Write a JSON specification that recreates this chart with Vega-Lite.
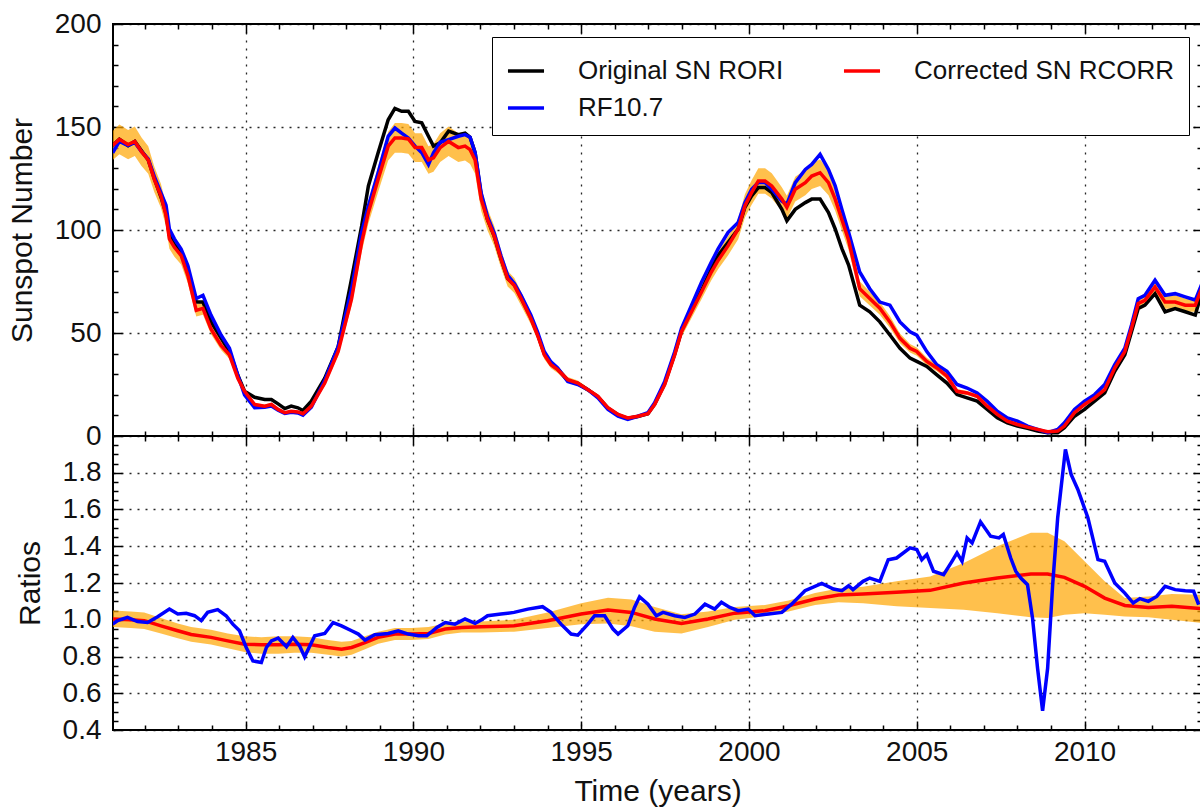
{
  "$schema": "https://vega.github.io/schema/vega-lite/v6.json",
  "padding": {"left": 6, "top": 9, "right": 0, "bottom": 0},
  "spacing": 0,
  "bounds": "flush",
  "resolve": {"legend": {"color": "independent"}},
  "config": {
    "font": "Liberation Sans",
    "view": {"stroke": "black", "strokeWidth": 2},
    "axis": {
      "labelFont": "Liberation Sans", "labelFontSize": 28, "labelColor": "#111",
      "titleFont": "Liberation Sans", "titleFontSize": 30, "titleFontWeight": "normal", "titleColor": "#111",
      "domain": false, "tickColor": "black", "tickWidth": 1.5, "minExtent": 0,
      "gridColor": "black", "gridDash": [2, 6], "gridOpacity": 0.85, "gridWidth": 1.3
    },
    "legend": {
      "labelFont": "Liberation Sans", "labelFontSize": 26, "labelColor": "#111",
      "symbolType": "stroke", "symbolSize": 1300, "symbolStrokeWidth": 3.5,
      "strokeColor": "black", "fillColor": "white", "padding": 14, "rowPadding": 4,
      "columnPadding": 52, "labelOffset": 32, "labelLimit": 500
    }
  },
  "datasets": {
    "top": [
      {"t":1981.04,"o":141,"f":137.5,"c":141,"lo":134,"hi":148},
      {"t":1981.24,"o":144,"f":143,"c":144,"lo":136.8,"hi":151.2},
      {"t":1981.5,"o":141,"f":141,"c":141.5,"lo":134.4,"hi":148.6},
      {"t":1981.7,"o":143,"f":142.5,"c":143,"lo":135.9,"hi":150.2},
      {"t":1981.9,"o":138.5,"f":138,"c":138,"lo":131.1,"hi":144.9},
      {"t":1982.1,"o":134,"f":134.5,"c":134,"lo":127.3,"hi":140.7},
      {"t":1982.28,"o":125,"f":126,"c":124.6,"lo":118.4,"hi":130.8},
      {"t":1982.48,"o":116,"f":118,"c":116.5,"lo":110.7,"hi":122.3},
      {"t":1982.63,"o":108,"f":112,"c":107,"lo":101.7,"hi":112.4},
      {"t":1982.73,"o":97.5,"f":100.5,"c":95.7,"lo":90.9,"hi":100.5},
      {"t":1982.88,"o":93,"f":95.7,"c":91.6,"lo":87,"hi":96.2},
      {"t":1983.08,"o":89.5,"f":90.8,"c":87.6,"lo":83.2,"hi":92},
      {"t":1983.28,"o":79.5,"f":82.8,"c":78,"lo":74.1,"hi":81.9},
      {"t":1983.53,"o":65,"f":66.7,"c":61,"lo":58,"hi":64},
      {"t":1983.73,"o":65,"f":68.3,"c":62,"lo":58.9,"hi":65.1},
      {"t":1983.97,"o":55.5,"f":58.7,"c":52,"lo":49.4,"hi":54.6},
      {"t":1984.27,"o":47.5,"f":49,"c":44,"lo":41.8,"hi":46.2},
      {"t":1984.52,"o":41,"f":42.6,"c":39.4,"lo":37.4,"hi":41.4},
      {"t":1984.77,"o":29.5,"f":29.5,"c":28,"lo":26.6,"hi":29.4},
      {"t":1984.97,"o":21.7,"f":20,"c":21.7,"lo":20.6,"hi":22.8},
      {"t":1985.27,"o":18.8,"f":13.7,"c":15.3,"lo":14.5,"hi":16.1},
      {"t":1985.57,"o":17.7,"f":14,"c":14.5,"lo":13.8,"hi":15.2},
      {"t":1985.77,"o":17.7,"f":14.5,"c":15.3,"lo":14.5,"hi":16.1},
      {"t":1985.97,"o":15.6,"f":12.5,"c":12.9,"lo":12.3,"hi":13.5},
      {"t":1986.17,"o":13.3,"f":11,"c":11.3,"lo":10.7,"hi":11.9},
      {"t":1986.36,"o":14.5,"f":11.5,"c":12,"lo":11.4,"hi":12.6},
      {"t":1986.56,"o":13.7,"f":11.2,"c":11.7,"lo":11.1,"hi":12.3},
      {"t":1986.71,"o":12.4,"f":10.1,"c":10.8,"lo":10.3,"hi":11.3},
      {"t":1986.96,"o":16.9,"f":14,"c":14.5,"lo":13.8,"hi":15.2},
      {"t":1987.36,"o":28.1,"f":27,"c":25.7,"lo":24.4,"hi":27},
      {"t":1987.76,"o":43.4,"f":43.4,"c":41,"lo":39,"hi":43},
      {"t":1988.16,"o":76.4,"f":71.5,"c":66.7,"lo":63.4,"hi":70},
      {"t":1988.46,"o":102,"f":99,"c":94,"lo":89.3,"hi":98.7},
      {"t":1988.66,"o":121.4,"f":111.7,"c":108.5,"lo":103.1,"hi":113.9},
      {"t":1988.95,"o":137.5,"f":127.8,"c":124.6,"lo":118.4,"hi":130.8},
      {"t":1989.25,"o":153.5,"f":145.5,"c":140.7,"lo":133.7,"hi":147.7},
      {"t":1989.45,"o":159,"f":149.5,"c":144.7,"lo":137.5,"hi":151.9},
      {"t":1989.65,"o":157.6,"f":147,"c":144.7,"lo":137.5,"hi":151.9},
      {"t":1989.85,"o":157.6,"f":144.7,"c":144.2,"lo":137,"hi":151.4},
      {"t":1990.05,"o":152.7,"f":140.7,"c":140,"lo":133,"hi":147},
      {"t":1990.25,"o":152,"f":137.5,"c":140,"lo":133,"hi":147},
      {"t":1990.45,"o":145.5,"f":131.8,"c":134,"lo":127.3,"hi":140.7},
      {"t":1990.6,"o":140.7,"f":137.5,"c":135,"lo":128.3,"hi":141.8},
      {"t":1990.8,"o":142.3,"f":142.6,"c":140,"lo":133,"hi":147},
      {"t":1991.05,"o":148,"f":143.9,"c":143,"lo":135.9,"hi":150.2},
      {"t":1991.34,"o":146.3,"f":145.5,"c":140,"lo":133,"hi":147},
      {"t":1991.54,"o":147,"f":146.3,"c":140.7,"lo":133.7,"hi":147.7},
      {"t":1991.69,"o":145,"f":145,"c":139,"lo":132,"hi":146},
      {"t":1991.84,"o":137.5,"f":137.5,"c":134,"lo":127.3,"hi":140.7},
      {"t":1992.02,"o":117,"f":118,"c":115,"lo":109.3,"hi":120.8},
      {"t":1992.21,"o":105,"f":106.5,"c":105,"lo":99.8,"hi":110.3},
      {"t":1992.41,"o":97,"f":98.5,"c":97,"lo":92.2,"hi":101.9},
      {"t":1992.61,"o":86,"f":87.5,"c":86,"lo":81.7,"hi":90.3},
      {"t":1992.81,"o":76.4,"f":78,"c":76.4,"lo":72.6,"hi":80.2},
      {"t":1993.01,"o":73.5,"f":74,"c":73,"lo":69.4,"hi":76.7},
      {"t":1993.21,"o":67,"f":68.3,"c":66.7,"lo":63.4,"hi":70},
      {"t":1993.5,"o":57.5,"f":58.7,"c":57,"lo":54.2,"hi":59.9},
      {"t":1993.7,"o":49.5,"f":50.6,"c":49,"lo":46.6,"hi":51.5},
      {"t":1993.9,"o":40,"f":41,"c":39.4,"lo":37.4,"hi":41.4},
      {"t":1994.1,"o":35,"f":36,"c":34.6,"lo":32.9,"hi":36.3},
      {"t":1994.3,"o":32.5,"f":33,"c":32.2,"lo":30.6,"hi":33.8},
      {"t":1994.6,"o":27,"f":26.5,"c":27.3,"lo":25.9,"hi":28.7},
      {"t":1994.9,"o":25.5,"f":25,"c":25.7,"lo":24.4,"hi":27},
      {"t":1995.2,"o":22.5,"f":22.5,"c":22.5,"lo":21.4,"hi":23.6},
      {"t":1995.5,"o":19,"f":18.5,"c":19.3,"lo":18.3,"hi":20.3},
      {"t":1995.8,"o":13.5,"f":12.9,"c":13.7,"lo":13,"hi":14.4},
      {"t":1996.1,"o":10.3,"f":9.6,"c":10.5,"lo":10,"hi":11},
      {"t":1996.39,"o":8.6,"f":8,"c":8.8,"lo":8.4,"hi":9.2},
      {"t":1996.69,"o":9.5,"f":9.6,"c":9.6,"lo":9.1,"hi":10.1},
      {"t":1996.99,"o":10.8,"f":11.3,"c":10.8,"lo":10.3,"hi":11.3},
      {"t":1997.19,"o":15.5,"f":16.1,"c":15.3,"lo":14.5,"hi":16.1},
      {"t":1997.49,"o":25.5,"f":26.5,"c":25,"lo":23.8,"hi":26.3},
      {"t":1997.79,"o":40,"f":41,"c":39.4,"lo":37.4,"hi":41.4},
      {"t":1997.99,"o":51,"f":52.3,"c":50.6,"lo":48.1,"hi":53.1},
      {"t":1998.29,"o":61,"f":63.5,"c":60.3,"lo":57.3,"hi":63.3},
      {"t":1998.59,"o":70.8,"f":74.8,"c":70,"lo":66.5,"hi":73.5},
      {"t":1998.88,"o":81.2,"f":84.4,"c":79.6,"lo":75.6,"hi":83.6},
      {"t":1999.08,"o":87.6,"f":90.8,"c":85.2,"lo":80.9,"hi":89.5},
      {"t":1999.38,"o":94,"f":98.9,"c":92.4,"lo":87.8,"hi":97},
      {"t":1999.68,"o":100.5,"f":103.7,"c":100.5,"lo":95.5,"hi":105.5},
      {"t":1999.88,"o":111,"f":113.3,"c":111.7,"lo":106.1,"hi":117.3},
      {"t":2000.08,"o":116.6,"f":119.8,"c":118.2,"lo":112.3,"hi":124.1},
      {"t":2000.28,"o":120.6,"f":123,"c":123.8,"lo":117.6,"hi":130},
      {"t":2000.48,"o":120.6,"f":123,"c":123.8,"lo":117.6,"hi":130},
      {"t":2000.68,"o":118.2,"f":119.8,"c":121.4,"lo":115.3,"hi":127.5},
      {"t":2000.98,"o":110,"f":114,"c":115,"lo":109.3,"hi":120.8},
      {"t":2001.13,"o":104.5,"f":112.5,"c":111,"lo":105.5,"hi":116.6},
      {"t":2001.38,"o":110,"f":123,"c":119.8,"lo":113.8,"hi":125.8},
      {"t":2001.68,"o":113.3,"f":129.4,"c":123,"lo":116.9,"hi":129.2},
      {"t":2001.87,"o":115,"f":131.8,"c":126.2,"lo":119.9,"hi":132.5},
      {"t":2002.12,"o":115,"f":136.7,"c":127.8,"lo":121.4,"hi":134.2},
      {"t":2002.37,"o":108.5,"f":129.4,"c":123,"lo":116.9,"hi":129.2},
      {"t":2002.57,"o":100.5,"f":121.4,"c":115,"lo":109.3,"hi":120.8},
      {"t":2002.77,"o":91,"f":110,"c":105,"lo":99.8,"hi":110.3},
      {"t":2002.97,"o":83,"f":98.9,"c":95,"lo":90.3,"hi":99.8},
      {"t":2003.3,"o":63.5,"f":79.6,"c":71.5,"lo":67.9,"hi":75.1},
      {"t":2003.6,"o":60.3,"f":71.5,"c":66.7,"lo":63.4,"hi":70},
      {"t":2003.9,"o":55.4,"f":65,"c":62,"lo":58.9,"hi":65.1},
      {"t":2004.2,"o":49,"f":63.5,"c":55.4,"lo":52.6,"hi":58.2},
      {"t":2004.5,"o":42.6,"f":55.4,"c":47.4,"lo":45,"hi":49.8},
      {"t":2004.8,"o":37.8,"f":50.6,"c":42.6,"lo":40.5,"hi":44.7},
      {"t":2005.0,"o":36.2,"f":49,"c":41,"lo":39,"hi":43},
      {"t":2005.3,"o":33.8,"f":41,"c":36.2,"lo":34.4,"hi":38},
      {"t":2005.6,"o":29.7,"f":34.6,"c":33,"lo":31.4,"hi":34.7},
      {"t":2005.9,"o":25.7,"f":31.4,"c":29,"lo":27.6,"hi":30.5},
      {"t":2006.2,"o":20.1,"f":25,"c":21.7,"lo":20.6,"hi":22.8},
      {"t":2006.5,"o":18.5,"f":23.3,"c":20.9,"lo":19.9,"hi":21.9},
      {"t":2006.8,"o":16.9,"f":20.9,"c":19.3,"lo":18.3,"hi":20.3},
      {"t":2007.1,"o":12.9,"f":16.9,"c":14.5,"lo":13.8,"hi":15.2},
      {"t":2007.4,"o":8.8,"f":12,"c":10.5,"lo":10,"hi":11},
      {"t":2007.7,"o":6.4,"f":8.8,"c":7.2,"lo":6.8,"hi":7.6},
      {"t":2008.0,"o":4.8,"f":7.2,"c":5.6,"lo":5.3,"hi":5.9},
      {"t":2008.3,"o":3.7,"f":4.8,"c":4.3,"lo":4.1,"hi":4.5},
      {"t":2008.6,"o":2.4,"f":3.2,"c":3.2,"lo":3,"hi":3.4},
      {"t":2008.9,"o":1.6,"f":1.6,"c":2.1,"lo":2,"hi":2.2},
      {"t":2009.2,"o":1.6,"f":3.2,"c":2.4,"lo":2.3,"hi":2.5},
      {"t":2009.4,"o":4,"f":6.4,"c":4.8,"lo":4.6,"hi":5},
      {"t":2009.7,"o":9.6,"f":12.9,"c":11.3,"lo":10.7,"hi":11.9},
      {"t":2010.0,"o":12.9,"f":16.9,"c":15.3,"lo":14.5,"hi":16.1},
      {"t":2010.3,"o":16.9,"f":20.1,"c":18.5,"lo":17.6,"hi":19.4},
      {"t":2010.6,"o":20.9,"f":25,"c":22.5,"lo":21.4,"hi":23.6},
      {"t":2010.9,"o":31.4,"f":34.6,"c":33,"lo":31.4,"hi":34.7},
      {"t":2011.2,"o":39.4,"f":42.6,"c":41,"lo":39,"hi":43},
      {"t":2011.4,"o":50.6,"f":53.9,"c":52.3,"lo":49.7,"hi":54.9},
      {"t":2011.6,"o":61.9,"f":66.7,"c":64.3,"lo":61.1,"hi":67.5},
      {"t":2011.8,"o":63.5,"f":68.3,"c":65.9,"lo":62.6,"hi":69.2},
      {"t":2012.1,"o":69.1,"f":75.6,"c":72.3,"lo":68.7,"hi":75.9},
      {"t":2012.4,"o":60.3,"f":68.3,"c":65,"lo":61.8,"hi":68.3},
      {"t":2012.7,"o":61.9,"f":69.1,"c":65,"lo":61.8,"hi":68.3},
      {"t":2013.0,"o":60.3,"f":67.5,"c":63.5,"lo":60.3,"hi":66.7},
      {"t":2013.3,"o":58.7,"f":66,"c":63.5,"lo":60.3,"hi":66.7},
      {"t":2013.5,"o":70,"f":74,"c":72,"lo":68.4,"hi":75.6}
    ],
    "ratio": [
      {"t":1981.04,"c":1.004,"lo":0.96,"hi":1.05},
      {"t":1981.58,"c":1.0,"lo":0.955,"hi":1.045},
      {"t":1981.98,"c":0.995,"lo":0.95,"hi":1.04},
      {"t":1982.48,"c":0.967,"lo":0.925,"hi":1.01},
      {"t":1982.98,"c":0.94,"lo":0.9,"hi":0.98},
      {"t":1983.38,"c":0.92,"lo":0.88,"hi":0.96},
      {"t":1983.97,"c":0.904,"lo":0.865,"hi":0.945},
      {"t":1984.47,"c":0.885,"lo":0.845,"hi":0.925},
      {"t":1984.97,"c":0.867,"lo":0.825,"hi":0.91},
      {"t":1985.47,"c":0.864,"lo":0.815,"hi":0.905},
      {"t":1985.97,"c":0.864,"lo":0.815,"hi":0.91},
      {"t":1986.46,"c":0.867,"lo":0.82,"hi":0.91},
      {"t":1986.96,"c":0.864,"lo":0.82,"hi":0.905},
      {"t":1987.46,"c":0.849,"lo":0.81,"hi":0.89},
      {"t":1987.86,"c":0.84,"lo":0.8,"hi":0.88},
      {"t":1988.16,"c":0.849,"lo":0.81,"hi":0.885},
      {"t":1988.56,"c":0.876,"lo":0.84,"hi":0.91},
      {"t":1988.95,"c":0.904,"lo":0.87,"hi":0.935},
      {"t":1989.45,"c":0.922,"lo":0.89,"hi":0.955},
      {"t":1989.95,"c":0.922,"lo":0.89,"hi":0.955},
      {"t":1990.45,"c":0.925,"lo":0.895,"hi":0.96},
      {"t":1990.95,"c":0.95,"lo":0.92,"hi":0.98},
      {"t":1991.44,"c":0.958,"lo":0.93,"hi":0.99},
      {"t":1992.02,"c":0.962,"lo":0.93,"hi":0.99},
      {"t":1993.0,"c":0.967,"lo":0.935,"hi":1.0},
      {"t":1994.0,"c":0.995,"lo":0.955,"hi":1.04},
      {"t":1995.0,"c":1.031,"lo":0.975,"hi":1.09},
      {"t":1995.8,"c":1.053,"lo":0.98,"hi":1.12},
      {"t":1996.5,"c":1.04,"lo":0.965,"hi":1.11},
      {"t":1997.19,"c":1.004,"lo":0.935,"hi":1.07},
      {"t":1997.99,"c":0.98,"lo":0.925,"hi":1.03},
      {"t":1998.78,"c":1.004,"lo":0.96,"hi":1.045},
      {"t":1999.58,"c":1.036,"lo":1.0,"hi":1.07},
      {"t":2000.48,"c":1.049,"lo":1.02,"hi":1.08},
      {"t":2001.18,"c":1.076,"lo":1.045,"hi":1.105},
      {"t":2001.97,"c":1.113,"lo":1.08,"hi":1.145},
      {"t":2002.67,"c":1.135,"lo":1.095,"hi":1.17},
      {"t":2003.4,"c":1.14,"lo":1.09,"hi":1.18},
      {"t":2004.4,"c":1.149,"lo":1.073,"hi":1.209},
      {"t":2005.4,"c":1.16,"lo":1.064,"hi":1.236},
      {"t":2006.4,"c":1.2,"lo":1.055,"hi":1.309},
      {"t":2007.4,"c":1.227,"lo":1.036,"hi":1.4},
      {"t":2008.4,"c":1.249,"lo":1.013,"hi":1.473},
      {"t":2008.9,"c":1.249,"lo":1.009,"hi":1.473},
      {"t":2009.4,"c":1.231,"lo":1.027,"hi":1.427},
      {"t":2010.0,"c":1.182,"lo":1.036,"hi":1.318},
      {"t":2010.6,"c":1.118,"lo":1.027,"hi":1.209},
      {"t":2011.2,"c":1.078,"lo":1.018,"hi":1.118},
      {"t":2011.9,"c":1.067,"lo":1.013,"hi":1.127},
      {"t":2012.6,"c":1.073,"lo":1.0,"hi":1.14},
      {"t":2013.5,"c":1.06,"lo":0.982,"hi":1.136}
    ],
    "ratioF": [
      {"t":1981.04,"f":0.976},{"t":1981.19,"f":0.995},{"t":1981.48,"f":1.013},{"t":1981.78,"f":0.99},
      {"t":1982.08,"f":0.985},{"t":1982.38,"f":1.016},{"t":1982.73,"f":1.058},{"t":1982.98,"f":1.031},
      {"t":1983.23,"f":1.035},{"t":1983.48,"f":1.022},{"t":1983.68,"f":0.995},{"t":1983.87,"f":1.04},
      {"t":1984.17,"f":1.055},{"t":1984.42,"f":1.022},{"t":1984.62,"f":0.976},{"t":1984.82,"f":0.94},
      {"t":1985.02,"f":0.849},{"t":1985.22,"f":0.776},{"t":1985.47,"f":0.767},{"t":1985.62,"f":0.849},
      {"t":1985.77,"f":0.885},{"t":1985.97,"f":0.9},{"t":1986.22,"f":0.853},{"t":1986.41,"f":0.904},
      {"t":1986.61,"f":0.858},{"t":1986.76,"f":0.798},{"t":1987.06,"f":0.913},{"t":1987.36,"f":0.925},
      {"t":1987.61,"f":0.985},{"t":1987.86,"f":0.967},{"t":1988.16,"f":0.94},{"t":1988.36,"f":0.922},
      {"t":1988.56,"f":0.889},{"t":1988.85,"f":0.918},{"t":1989.25,"f":0.925},{"t":1989.55,"f":0.94},
      {"t":1989.85,"f":0.922},{"t":1990.15,"f":0.913},{"t":1990.4,"f":0.913},{"t":1990.7,"f":0.958},
      {"t":1990.95,"f":0.985},{"t":1991.24,"f":0.976},{"t":1991.54,"f":1.004},{"t":1991.84,"f":0.98},
      {"t":1992.02,"f":0.998},{"t":1992.21,"f":1.022},{"t":1992.61,"f":1.031},{"t":1993.0,"f":1.04},
      {"t":1993.41,"f":1.058},{"t":1993.85,"f":1.071},{"t":1994.1,"f":1.04},{"t":1994.4,"f":0.976},
      {"t":1994.7,"f":0.922},{"t":1994.9,"f":0.916},{"t":1995.2,"f":0.976},{"t":1995.4,"f":1.022},
      {"t":1995.7,"f":1.022},{"t":1995.95,"f":0.949},{"t":1996.1,"f":0.922},{"t":1996.39,"f":0.967},
      {"t":1996.59,"f":1.067},{"t":1996.74,"f":1.125},{"t":1996.99,"f":1.085},{"t":1997.24,"f":1.022},
      {"t":1997.44,"f":1.04},{"t":1997.79,"f":1.022},{"t":1998.09,"f":1.013},{"t":1998.39,"f":1.031},
      {"t":1998.69,"f":1.085},{"t":1998.98,"f":1.058},{"t":1999.18,"f":1.095},{"t":1999.43,"f":1.067},
      {"t":1999.68,"f":1.049},{"t":1999.98,"f":1.058},{"t":2000.18,"f":1.022},{"t":2000.58,"f":1.031},
      {"t":2000.98,"f":1.04},{"t":2001.27,"f":1.085},{"t":2001.67,"f":1.158},{"t":2002.17,"f":1.198},
      {"t":2002.52,"f":1.167},{"t":2002.77,"f":1.158},{"t":2002.97,"f":1.185},{"t":2003.1,"f":1.164},
      {"t":2003.4,"f":1.209},{"t":2003.6,"f":1.227},{"t":2003.9,"f":1.209},{"t":2004.15,"f":1.327},
      {"t":2004.4,"f":1.336},{"t":2004.8,"f":1.391},{"t":2005.0,"f":1.382},{"t":2005.15,"f":1.327},
      {"t":2005.3,"f":1.355},{"t":2005.5,"f":1.264},{"t":2005.8,"f":1.245},{"t":2006.05,"f":1.318},
      {"t":2006.2,"f":1.364},{"t":2006.35,"f":1.318},{"t":2006.5,"f":1.445},{"t":2006.65,"f":1.418},
      {"t":2006.9,"f":1.533},{"t":2007.2,"f":1.455},{"t":2007.45,"f":1.445},{"t":2007.58,"f":1.464},
      {"t":2007.8,"f":1.336},{"t":2007.95,"f":1.264},{"t":2008.1,"f":1.227},{"t":2008.3,"f":1.191},
      {"t":2008.45,"f":1.009},{"t":2008.6,"f":0.736},{"t":2008.75,"f":0.504},{"t":2008.9,"f":0.736},
      {"t":2009.05,"f":1.191},{"t":2009.2,"f":1.555},{"t":2009.43,"f":1.927},{"t":2009.6,"f":1.791},
      {"t":2009.8,"f":1.709},{"t":2010.1,"f":1.555},{"t":2010.4,"f":1.327},{"t":2010.6,"f":1.318},
      {"t":2010.9,"f":1.2},{"t":2011.2,"f":1.145},{"t":2011.45,"f":1.091},{"t":2011.65,"f":1.115},
      {"t":2011.9,"f":1.1},{"t":2012.15,"f":1.127},{"t":2012.4,"f":1.182},{"t":2012.7,"f":1.164},
      {"t":2013.0,"f":1.158},{"t":2013.25,"f":1.155},{"t":2013.4,"f":1.082}
    ]
  },
  "vconcat": [
    {
      "width": 1089,
      "height": 412,
      "data": {"name": "top"},
      "resolve": {"axis": {"x": "independent", "y": "independent"}},
      "layer": [
        {
          "mark": {"type": "area", "color": "#FFA500", "opacity": 0.7, "clip": true},
          "encoding": {
            "x": {"field": "t", "type": "quantitative",
                  "scale": {"domain": [1981.05, 2013.5], "nice": false, "zero": false},
                  "axis": {"orient": "bottom", "values": [1985, 1990, 1995, 2000, 2005, 2010], "labels": false, "grid": true, "tickSize": -9, "title": null}},
            "y": {"field": "lo", "type": "quantitative",
                  "scale": {"domain": [0, 200], "nice": false},
                  "axis": {"orient": "left", "values": [0, 50, 100, 150, 200], "grid": true, "tickSize": -9, "labelPadding": 21, "title": "Sunspot Number", "titlePadding": 17}},
            "y2": {"field": "hi"}
          }
        },
        {
          "mark": {"type": "line", "strokeWidth": 3.5, "clip": true},
          "encoding": {
            "x": {"field": "t", "type": "quantitative",
                  "axis": {"orient": "bottom", "values": [1982,1983,1984,1986,1987,1988,1989,1991,1992,1993,1994,1996,1997,1998,1999,2001,2002,2003,2004,2006,2007,2008,2009,2011,2012,2013], "labels": false, "grid": false, "tickSize": -5, "title": null}},
            "y": {"field": "o", "type": "quantitative",
                  "axis": {"orient": "left", "values": [10,20,30,40,60,70,80,90,110,120,130,140,160,170,180,190], "labels": false, "grid": false, "tickSize": -5, "title": null}},
            "color": {"datum": "Original SN RORI", "type": "nominal",
                      "scale": {"domain": ["Original SN RORI", "RF10.7", "Corrected SN RCORR"], "range": ["#000000", "#0000FF", "#FF0000"]},
                      "legend": {"title": null, "orient": "top-right", "offset": 13, "columns": 2}}
          }
        },
        {
          "mark": {"type": "line", "strokeWidth": 3.5, "clip": true},
          "encoding": {
            "x": {"field": "t", "type": "quantitative",
                  "axis": {"orient": "top", "values": [1985, 1990, 1995, 2000, 2005, 2010], "labels": false, "grid": false, "tickSize": -9, "title": null}},
            "y": {"field": "f", "type": "quantitative",
                  "axis": {"orient": "right", "values": [0, 50, 100, 150, 200], "labels": false, "grid": false, "tickSize": -9, "title": null}},
            "color": {"datum": "RF10.7", "type": "nominal"}
          }
        },
        {
          "mark": {"type": "line", "strokeWidth": 3.5, "clip": true},
          "encoding": {
            "x": {"field": "t", "type": "quantitative",
                  "axis": {"orient": "top", "values": [1982,1983,1984,1986,1987,1988,1989,1991,1992,1993,1994,1996,1997,1998,1999,2001,2002,2003,2004,2006,2007,2008,2009,2011,2012,2013], "labels": false, "grid": false, "tickSize": -5, "title": null}},
            "y": {"field": "c", "type": "quantitative",
                  "axis": {"orient": "right", "values": [10,20,30,40,60,70,80,90,110,120,130,140,160,170,180,190], "labels": false, "grid": false, "tickSize": -5, "title": null}},
            "color": {"datum": "Corrected SN RCORR", "type": "nominal"}
          }
        }
      ]
    },
    {
      "width": 1089,
      "height": 294,
      "resolve": {"axis": {"x": "independent", "y": "independent"}},
      "layer": [
        {
          "data": {"name": "ratio"},
          "mark": {"type": "area", "color": "#FFA500", "opacity": 0.7, "clip": true},
          "encoding": {
            "x": {"field": "t", "type": "quantitative",
                  "scale": {"domain": [1981.05, 2013.5], "nice": false, "zero": false},
                  "axis": {"orient": "bottom", "values": [1985, 1990, 1995, 2000, 2005, 2010], "format": "d", "grid": true, "tickSize": -9, "labelPadding": 17, "title": "Time (years)", "titlePadding": 10}},
            "y": {"field": "lo", "type": "quantitative",
                  "scale": {"domain": [0.4, 2.0], "nice": false, "zero": false},
                  "axis": {"orient": "left", "values": [0.4, 0.6, 0.8, 1.0, 1.2, 1.4, 1.6, 1.8], "format": ".1f", "grid": true, "tickSize": -9, "labelPadding": 21, "title": "Ratios", "titlePadding": 17}},
            "y2": {"field": "hi"}
          }
        },
        {
          "data": {"name": "ratio"},
          "mark": {"type": "line", "color": "#FF0000", "strokeWidth": 3.5, "clip": true},
          "encoding": {
            "x": {"field": "t", "type": "quantitative",
                  "axis": {"orient": "bottom", "values": [1982,1983,1984,1986,1987,1988,1989,1991,1992,1993,1994,1996,1997,1998,1999,2001,2002,2003,2004,2006,2007,2008,2009,2011,2012,2013], "labels": false, "grid": false, "tickSize": -5, "title": null}},
            "y": {"field": "c", "type": "quantitative",
                  "axis": {"orient": "left", "values": [0.45,0.5,0.55,0.65,0.7,0.75,0.85,0.9,0.95,1.05,1.1,1.15,1.25,1.3,1.35,1.45,1.5,1.55,1.65,1.7,1.75,1.85,1.9,1.95], "labels": false, "grid": false, "tickSize": -5, "title": null}}
          }
        },
        {
          "mark": {"type": "rule", "color": "black", "strokeWidth": 3},
          "encoding": {
            "y": {"datum": 1, "type": "quantitative",
                  "axis": {"orient": "right", "values": [0.45,0.5,0.55,0.65,0.7,0.75,0.85,0.9,0.95,1.05,1.1,1.15,1.25,1.3,1.35,1.45,1.5,1.55,1.65,1.7,1.75,1.85,1.9,1.95], "labels": false, "grid": false, "tickSize": -5, "title": null}}
          }
        },
        {
          "data": {"name": "ratioF"},
          "mark": {"type": "line", "color": "#0000FF", "strokeWidth": 3.5, "clip": true},
          "encoding": {
            "x": {"field": "t", "type": "quantitative",
                  "axis": {"orient": "top", "values": [1985, 1990, 1995, 2000, 2005, 2010], "labels": false, "grid": false, "tickSize": -9, "title": null}},
            "y": {"field": "f", "type": "quantitative",
                  "axis": {"orient": "right", "values": [0.4, 0.6, 0.8, 1.0, 1.2, 1.4, 1.6, 1.8], "labels": false, "grid": false, "tickSize": -9, "title": null}}
          }
        },
        {
          "data": {"name": "ratio"},
          "mark": {"type": "line", "opacity": 0, "clip": true},
          "encoding": {
            "x": {"field": "t", "type": "quantitative",
                  "axis": {"orient": "top", "values": [1982,1983,1984,1986,1987,1988,1989,1991,1992,1993,1994,1996,1997,1998,1999,2001,2002,2003,2004,2006,2007,2008,2009,2011,2012,2013], "labels": false, "grid": false, "tickSize": -5, "title": null}},
            "y": {"field": "c", "type": "quantitative", "axis": null}
          }
        }
      ]
    }
  ]
}
